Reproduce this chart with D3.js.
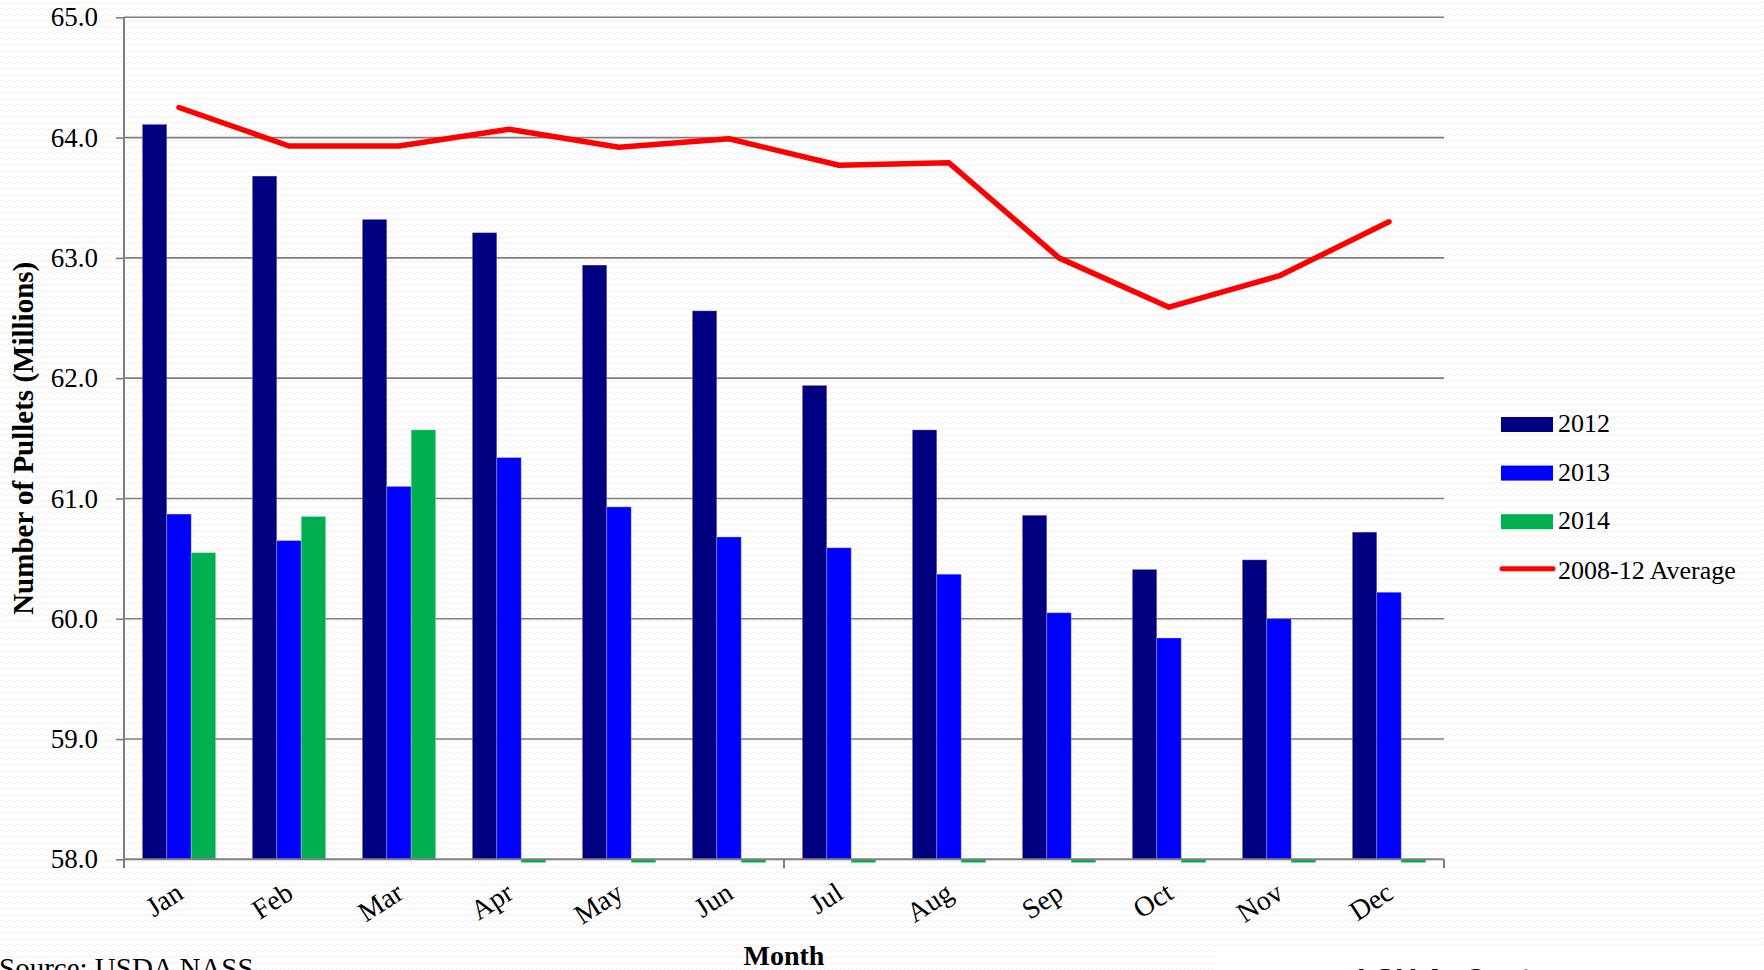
<!DOCTYPE html>
<html>
<head>
<meta charset="utf-8">
<script src="https://cdn.jsdelivr.net/npm/d3@7"></script>
<style>
  html, body { margin: 0; padding: 0; background: #fff; overflow: hidden; }
  svg { display: block; }
  text { font-family: "Liberation Serif", "DejaVu Serif", serif; fill: #000; }
</style>
</head>
<body>
<svg id="chart" width="1764" height="970"></svg>
<script>
'use strict';

var months = ['Jan', 'Feb', 'Mar', 'Apr', 'May', 'Jun', 'Jul', 'Aug', 'Sep', 'Oct', 'Nov', 'Dec'];
var series = ['2012', '2013', '2014'];
var values2012 = [64.11, 63.68, 63.32, 63.21, 62.94, 62.56, 61.94, 61.57, 60.86, 60.41, 60.49, 60.72];
var values2013 = [60.87, 60.65, 61.10, 61.34, 60.93, 60.68, 60.59, 60.37, 60.05, 59.84, 60.00, 60.22];
var values2014 = [60.55, 60.85, 61.57, 0, 0, 0, 0, 0, 0, 0, 0, 0];
var average = [64.25, 63.93, 63.93, 64.07, 63.92, 63.99, 63.77, 63.79, 63.00, 62.59, 62.85, 63.30];
var yTicks = [58, 59, 60, 61, 62, 63, 64, 65];
var seriesColors = ['#000080', '#0000ff', '#00b050'];
var lineColor = '#ff0000';

var svg = d3.select('#chart');
var width = 1764, height = 970;
var margin = { left: 124, right: 320, top: 17.3, bottom: 110.7 };
var plotW = width - margin.left - margin.right;
var plotH = height - margin.top - margin.bottom;

// faint wavy background like the original slide
var defs = svg.append('defs');
var pat = defs.append('pattern')
  .attr('id', 'wave')
  .attr('width', 8)
  .attr('height', 6)
  .attr('patternUnits', 'userSpaceOnUse');
pat.append('rect').attr('width', 8).attr('height', 6).attr('fill', '#ffffff');
pat.append('path')
  .attr('d', 'M0 3 Q2 0.5 4 3 T8 3')
  .attr('fill', 'none')
  .attr('stroke', '#efefef')
  .attr('stroke-width', 1);

svg.append('rect')
  .attr('width', width)
  .attr('height', height)
  .attr('fill', 'url(#wave)');

var table = months.map(function (m, i) {
  return { month: m, vals: [values2012[i], values2013[i], values2014[i]], avg: average[i] };
});

var x0 = d3.scaleBand()
  .domain(months)
  .range([margin.left, margin.left + plotW])
  .paddingInner(0)
  .paddingOuter(0);

var x1 = d3.scaleBand()
  .domain(series)
  .range([0, x0.bandwidth()])
  .paddingInner(0)
  .paddingOuter(0.75);

var y = d3.scaleLinear()
  .domain([58, 65])
  .range([margin.top + plotH, margin.top]);

// gridlines
svg.append('g')
  .attr('class', 'grid')
  .selectAll('line')
  .data(yTicks.slice(1))
  .enter().append('line')
  .attr('x1', margin.left)
  .attr('x2', margin.left + plotW)
  .attr('y1', function (d) { return y(d); })
  .attr('y2', function (d) { return y(d); })
  .attr('stroke', '#7f7f7f')
  .attr('stroke-width', 1.6);

// bars
var groups = svg.append('g')
  .selectAll('g.month')
  .data(table)
  .enter().append('g')
  .attr('class', 'month')
  .attr('transform', function (d) { return 'translate(' + x0(d.month) + ',0)'; });

groups.selectAll('rect')
  .data(function (d) {
    return d.vals.map(function (v, i) { return { key: series[i], value: v, idx: i }; });
  })
  .enter().append('rect')
  .attr('x', function (d) { return x1(d.key); })
  .attr('width', x1.bandwidth())
  .attr('y', function (d) {
    return d.value < y.domain()[0] ? y(y.domain()[0]) : y(d.value);
  })
  .attr('height', function (d) {
    // zero values sit below the axis minimum: shown as a thin sliver
    return d.value < y.domain()[0] ? 3.2 : y(y.domain()[0]) - y(d.value);
  })
  .attr('fill', function (d) { return seriesColors[d.idx]; })
  .attr('stroke', function (d) { return d.value < y.domain()[0] ? 'none' : 'rgba(255,255,255,0.25)'; })
  .attr('stroke-width', 1);

// y axis
var yAxis = svg.append('g')
  .attr('transform', 'translate(' + margin.left + ',0)')
  .call(d3.axisLeft(y).tickValues(yTicks).tickFormat(d3.format('.1f')).tickSize(8).tickPadding(18));
yAxis.select('.domain').remove();
yAxis.selectAll('.tick line').attr('stroke', '#7f7f7f').attr('stroke-width', 1.6);
yAxis.selectAll('.tick text')
  .attr('font-family', '"Liberation Serif", serif')
  .attr('font-size', 27)
  .attr('fill', '#000');

// axis lines
var axisY = y(y.domain()[0]);
svg.append('line')
  .attr('x1', margin.left).attr('x2', margin.left)
  .attr('y1', margin.top).attr('y2', axisY + 9)
  .attr('stroke', '#7f7f7f').attr('stroke-width', 2);
svg.append('line')
  .attr('x1', margin.left).attr('x2', margin.left + plotW)
  .attr('y1', axisY).attr('y2', axisY)
  .attr('stroke', '#7f7f7f').attr('stroke-width', 2);

// category tick marks every 6 months
var tickPos = [x0('Jul'), x0.range()[1]];
svg.append('g').selectAll('line')
  .data(tickPos)
  .enter().append('line')
  .attr('x1', function (d) { return d; })
  .attr('x2', function (d) { return d; })
  .attr('y1', axisY)
  .attr('y2', axisY + 9)
  .attr('stroke', '#7f7f7f')
  .attr('stroke-width', 2);

// month labels, rotated
svg.append('g').selectAll('text')
  .data(months)
  .enter().append('text')
  .attr('text-anchor', 'end')
  .attr('font-size', 28)
  .attr('transform', function (d) {
    var cx = x0(d) + x0.bandwidth() / 2 + 6;
    return 'translate(' + cx + ',' + (axisY + 38) + ') rotate(-33)';
  })
  .text(function (d) { return d; });

// average line
var line = d3.line()
  .x(function (d) { return x0(d.month) + x0.bandwidth() / 2; })
  .y(function (d) { return y(d.avg); });

svg.append('path')
  .datum(table)
  .attr('d', line)
  .attr('fill', 'none')
  .attr('stroke', lineColor)
  .attr('stroke-width', 5.5)
  .attr('stroke-linejoin', 'round')
  .attr('stroke-linecap', 'round');

// axis titles
svg.append('text')
  .attr('transform', 'translate(33,' + (margin.top + plotH / 2) + ') rotate(-90)')
  .attr('text-anchor', 'middle')
  .attr('font-weight', 'bold')
  .attr('font-size', 29)
  .text('Number of Pullets (Millions)');

svg.append('text')
  .attr('x', x0('Jul'))
  .attr('y', 965)
  .attr('text-anchor', 'middle')
  .attr('font-weight', 'bold')
  .attr('font-size', 28)
  .text('Month');

// legend
var legendItems = series.concat(['2008-12 Average']);
var legend = svg.append('g').attr('transform', 'translate(1501,417)');
var li = legend.selectAll('g')
  .data(legendItems)
  .enter().append('g')
  .attr('transform', function (d, i) { return 'translate(0,' + (i * 48.6) + ')'; });

li.filter(function (d, i) { return i < 3; })
  .append('rect')
  .attr('width', 52)
  .attr('height', 15)
  .attr('fill', function (d, i) { return seriesColors[i]; });

li.filter(function (d, i) { return i === 3; })
  .append('line')
  .attr('x1', 1).attr('x2', 52)
  .attr('y1', 6).attr('y2', 6)
  .attr('stroke', lineColor)
  .attr('stroke-width', 5)
  .attr('stroke-linecap', 'round');

li.append('text')
  .attr('x', 57)
  .attr('y', function (d, i) { return i === 3 ? 16 : 15; })
  .attr('font-size', 26)
  .text(function (d) { return d; });

// source note and footer box
svg.append('text')
  .attr('x', -1)
  .attr('y', 978)
  .attr('font-size', 29)
  .text('Source: USDA NASS');

svg.append('rect')
  .attr('x', 1216)
  .attr('y', 946)
  .attr('width', width - 1216)
  .attr('height', 30)
  .attr('fill', '#ffffff');

svg.append('text')
  .attr('x', 1458)
  .attr('y', 989)
  .attr('text-anchor', 'middle')
  .attr('font-weight', 'bold')
  .attr('font-size', 30)
  .style('font-family', '"Liberation Sans", Arial, sans-serif')
  .text('LSU AgCenter');
</script>
</body>
</html>
